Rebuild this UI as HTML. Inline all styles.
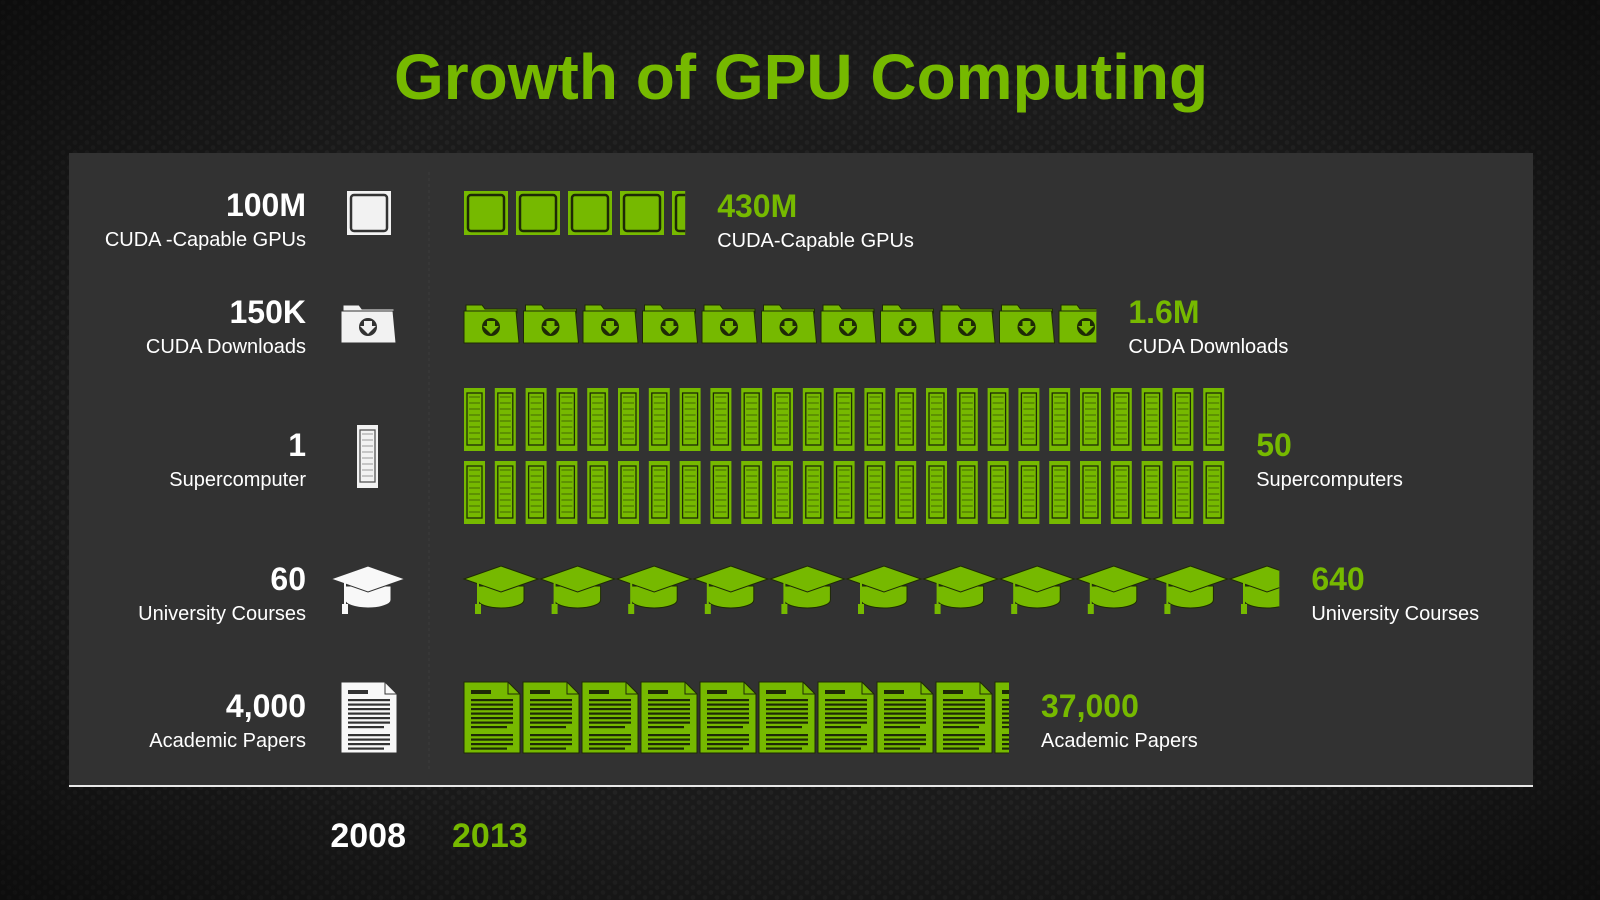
<!DOCTYPE html>
<html><head><meta charset="utf-8">
<style>
html,body{margin:0;padding:0;background:#1b1b1b;}
svg{display:block;font-family:"Liberation Sans",sans-serif;}
</style></head>
<body>
<svg id="chart" width="1600" height="900" viewBox="0 0 1600 900">
<defs>
<pattern id="hex" width="12" height="10" patternUnits="userSpaceOnUse">
<rect width="12" height="10" fill="#1a1a1a"/>
<circle cx="3" cy="2.5" r="2.3" fill="#222"/><circle cx="9" cy="7.5" r="2.3" fill="#222"/>
</pattern>
<radialGradient id="vign" cx="50%" cy="50%" r="70%">
<stop offset="60%" stop-color="#000" stop-opacity="0"/><stop offset="100%" stop-color="#000" stop-opacity="0.5"/>
</radialGradient>
</defs>
<rect width="1600" height="900" fill="url(#hex)"/>
<rect width="1600" height="900" fill="url(#vign)"/>
<text x="801" y="99" text-anchor="middle" font-size="64" font-weight="bold" fill="#76b900">Growth of GPU Computing</text>
<rect x="69" y="153" width="1464" height="633" fill="#323232"/>
<line x1="69" y1="786" x2="1533" y2="786" stroke="#e8e8e8" stroke-width="2"/>
<line x1="429" y1="172" x2="429" y2="770" stroke="#3c3c3c" stroke-width="1" stroke-dasharray="3,3"/>
<text x="406" y="847" text-anchor="end" font-size="34" font-weight="bold" fill="#fff">2008</text>
<text x="452" y="847" font-size="34" font-weight="bold" fill="#76b900">2013</text>
<g id="rows"></g>
</svg>
<script>
const categories = ["CUDA -Capable GPUs","CUDA Downloads","Supercomputer","University Courses","Academic Papers"];
const categories2013 = ["CUDA-Capable GPUs","CUDA Downloads","Supercomputers","University Courses","Academic Papers"];
const values2008 = [100, 0.15, 1, 60, 4000];
const values2013 = [430, 1.6, 50, 640, 37000];
const labels2008 = ["100M","150K","1","60","4,000"];
const labels2013 = ["430M","1.6M","50","640","37,000"];

const NS = "http://www.w3.org/2000/svg";
const G = "#76b900", D = "#1e2a06";
const root = document.getElementById("rows");
function el(tag, attrs, parent){const e=document.createElementNS(NS,tag);for(const k in attrs)e.setAttribute(k,attrs[k]);(parent||root).appendChild(e);return e;}

const rowY = [191, 303, 388, 566, 682];
const leftBase = [216, 323, 456, 590, 717];
const step = [52, 59.5, 30.8, 76.6, 59];
const iconW = [44, 56, 21, 74, 56];
const startX = 464;

function gpu(g,x,y,c,dk){el("rect",{x:x,y:y,width:44,height:44,fill:c},g);el("rect",{x:x+4,y:y+4,width:36,height:36,rx:3,fill:"none",stroke:dk,"stroke-width":2.5},g);}
function folder(g,x,y,c,dk){el("path",{d:`M${x+2} ${y+2}h16l3 4h32v4h-51z`,fill:c,stroke:dk,"stroke-width":1},g);el("path",{d:`M${x} ${y+8}h52l3 32h-55z`,fill:c,stroke:dk,"stroke-width":1},g);el("circle",{cx:x+27,cy:y+24,r:9,fill:dk},g);el("path",{d:`M${x+23} ${y+18}h8v5h4l-8 8l-8-8h4z`,fill:c},g);}
function server(g,x,y,c,dk){el("rect",{x:x,y:y,width:21,height:63,fill:c},g);el("rect",{x:x+3,y:y+5,width:15,height:52,fill:"none",stroke:dk,"stroke-width":1.3},g);for(let i=0;i<8;i++)el("line",{x1:x+5,y1:y+9+i*6,x2:x+16,y2:y+9+i*6,stroke:dk,"stroke-width":0.8,"stroke-opacity":0.7},g);}
function cap(g,x,y,c,dk){el("path",{d:`M${x+14} ${y+20}v14a23 8 0 0 0 46 0v-14z`,fill:c,stroke:dk,"stroke-width":1},g);el("path",{d:`M${x} ${y+13}L${x+37} ${y}L${x+74} ${y+13}L${x+37} ${y+26}z`,fill:c,stroke:dk,"stroke-width":1},g);el("line",{x1:x+14,y1:y+16,x2:x+14,y2:y+40,stroke:c,"stroke-width":2},g);el("rect",{x:x+11,y:y+38,width:6,height:10,fill:c},g);}
function paper(g,x,y,c,dk){el("path",{d:`M${x} ${y}h44l12 12v59h-56z`,fill:c,stroke:dk,"stroke-width":1},g);el("path",{d:`M${x+44} ${y}v12h12`,fill:"none",stroke:dk,"stroke-width":1},g);el("rect",{x:x+7,y:y+8,width:20,height:4,fill:dk},g);for(let i=0;i<7;i++)el("rect",{x:x+7,y:y+17+i*4.5,width:i==6?36:42,height:2.2,fill:dk},g);for(let i=0;i<4;i++)el("rect",{x:x+7,y:y+52+i*4.5,width:i==3?36:42,height:2.2,fill:dk},g);}
const drawers=[gpu,folder,server,cap,paper];

const L = el("g",{});


gpu(L,347,191,"#f2f2f2","#333");
folder(L,341,303,"#f2f2f2","#333");
server(L,357,425,"#f2f2f2","#555");
cap(L,331,566,"#f8f8f8","#333");
paper(L,341,682,"#f8f8f8","#333");

categories.forEach((cat,i)=>{
  const lv=el("text",{x:306,y:leftBase[i],"text-anchor":"end","font-size":32,"font-weight":"bold",fill:"#fff"});
  
  
  lv.textContent=labels2008[i];
  const lc=el("text",{x:306,y:leftBase[i]+30,"text-anchor":"end","font-size":20,fill:"#fff"});
  
  
  lc.textContent=cat;

  const count = values2013[i]/values2008[i];
  const g=el("g",{});
  
  
  let endX;
  if(i===2){
    const cols=Math.ceil(count/2);
    for(let k=0;k<count;k++){const col=k%cols,row=Math.floor(k/cols);server(g,startX+col*step[i],rowY[i]+row*73,G,D);}
    endX=startX+(cols-1)*step[i]+iconW[i];
  } else {
    const full=Math.floor(count),frac=count-full;
    const cp=el("clipPath",{id:"clip"+i},g);
    const clipW=full*step[i]+frac*iconW[i];
    el("rect",{x:startX-2,y:rowY[i]-5,width:clipW+2,height:90},cp);
    const inner=el("g",{"clip-path":`url(#clip${i})`},g);
    for(let k=0;k<Math.ceil(count);k++)drawers[i](inner,startX+k*step[i],rowY[i],G,D);
    endX=startX+(frac>0?clipW:(full-1)*step[i]+iconW[i]);
  }
  const lx=endX+32;
  const vb=[217,323,456,590,717][i];
  const v=el("text",{x:lx,y:vb,"font-size":32,"font-weight":"bold",fill:G});
  
  
  v.textContent=labels2013[i];
  const c=el("text",{x:lx,y:vb+30,"font-size":20,fill:"#fff"});
  
  
  c.textContent=categories2013[i];
});
</script>
</body></html>
